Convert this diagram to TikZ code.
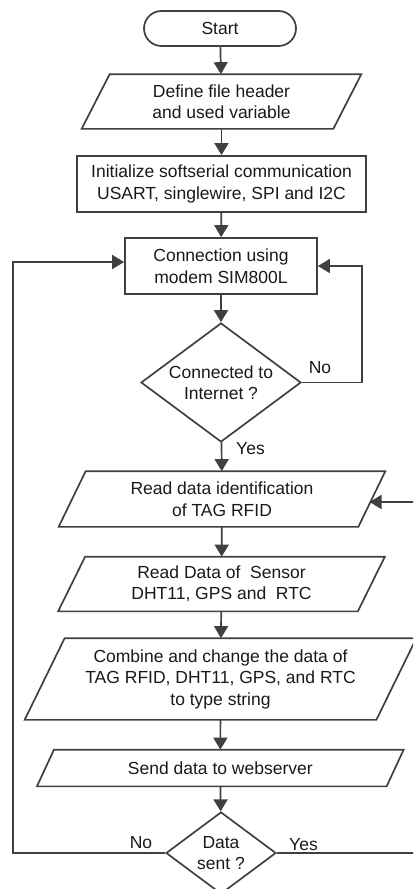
\documentclass[tikz,border=0pt]{standalone}
\usepackage{fontspec}
\setmainfont{Liberation Sans}
\usetikzlibrary{arrows.meta,shapes.geometric}
\definecolor{linec}{RGB}{64,64,64}
\definecolor{txtc}{RGB}{25,25,25}
\newcommand\chartfont{\fontsize{17.5}{21.5}\selectfont}
% outline of an input/output box: parallelogram leaning right, half slant #2
\newcommand\ioframe[2]{%
  \draw[ln] ([xshift=#2]#1.north west) -- ([xshift=#2]#1.north east)
    -- ([xshift=-#2]#1.south east) -- ([xshift=-#2]#1.south west) -- cycle;}
\begin{document}
\begin{tikzpicture}[x=1pt,y=-1pt,
  ln/.style={draw=linec,line width=1.7pt},
  arr/.style={ln,-{Triangle[length=12pt,width=14pt]}},
  lbl/.style={text=txtc,font=\chartfont,inner sep=0pt},
  procbox/.style={lbl,ln,rectangle,align=center},
  iobox/.style={lbl,align=center,outer sep=0.85pt},
  decision/.style={lbl,ln,diamond,align=center,inner xsep=-30pt,inner ysep=-15pt},
  terminal/.style={lbl,ln,rectangle,rounded corners=17.5pt,align=center},
]
\clip (0,0) rectangle (413,889);

% main column
\node[terminal,minimum width=152pt,minimum height=35pt] (start) at (220,28.5) {Start};
\node[iobox,minimum width=250pt,minimum height=53pt] (def) at (221.5,101.5)
  {Define file header\\and used variable};
\ioframe{def}{14pt}
\node[procbox,minimum width=289pt,minimum height=56pt] (init) at (221.5,184)
  {Initialize softserial communication\\USART, singlewire, SPI and I2C};
\node[procbox,minimum width=192pt,minimum height=56pt] (conn) at (221,266)
  {Connection using\\modem SIM800L};
\node[decision,minimum width=160pt,minimum height=119pt] (dc) at (221,382.5)
  {Connected to\\Internet ?};
\node[iobox,minimum width=298pt,minimum height=54pt] (rd) at (222,499)
  {Read data identification\\of TAG RFID};
\ioframe{rd}{13.5pt}
\node[iobox,minimum width=298pt,minimum height=53pt] (sen) at (221.5,584)
  {Read Data of~~Sensor\\DHT11, GPS and~~RTC};
\ioframe{sen}{13.5pt}
\node[iobox,minimum width=350pt,minimum height=80pt] (cmb) at (220.5,679)
  {Combine and change the data of\\TAG RFID, DHT11, GPS, and RTC\\to type string};
\ioframe{cmb}{20pt}
\node[iobox,minimum width=348pt,minimum height=35pt] (snd) at (220.3,768)
  {Send data to webserver};
\ioframe{snd}{8.5pt}
\node[decision,minimum width=110pt,minimum height=82pt] (ds) at (221,853)
  {Data\\sent ?};

% branch labels
\node[lbl] (no1) at (320,367.5) {No};
\node[lbl] (yes1) at (250.5,449) {Yes};
\node[lbl] (no2) at (141,843) {No};
\node[lbl] (yes2) at (303.5,845) {Yes};

% turning points of the loops
\coordinate (lft) at (13,600);
\coordinate (rt1) at (362,320);
\coordinate (rt2) at (420,700);
\coordinate (rdin) at (369.5,502);

% straight flow
\draw[arr] (start) -- (def);
\draw[arr] (def) -- (init);
\draw[arr] (init) -- (conn);
\draw[arr] (conn) -- (dc);
\draw[arr] (dc) -- (rd);
\draw[arr] (rd) -- (sen);
\draw[arr] (sen) -- (cmb);
\draw[arr] (cmb) -- (snd);
\draw[arr] (snd) -- (ds);

% loops
\draw[arr] (dc.east) -| (rt1) |- (conn.east);
\draw[arr] (ds.west) -| (lft) |- ([yshift=4pt]conn.west);
\draw[arr] (ds.east) -| (rt2) |- (rdin);
\end{tikzpicture}
\end{document}
